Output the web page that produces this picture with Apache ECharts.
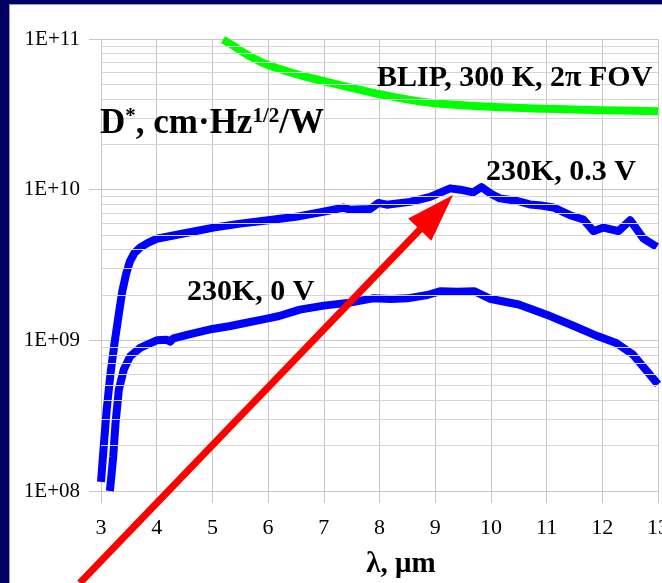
<!DOCTYPE html>
<html>
<head>
<meta charset="utf-8">
<script src="https://cdn.jsdelivr.net/npm/echarts@6/dist/echarts.min.js"></script>
<style>
  html, body { margin: 0; padding: 0; background: #000060; }
  #chart { width: 662px; height: 583px; }
</style>
</head>
<body>
<div id="chart"></div>
<script>
// wavelength, um / detectivity D*, cm*Hz^1/2/W
var blipX = [5.19, 5.4, 5.59, 5.98, 6.54, 7.11, 8.03, 8.92, 10.0, 11.02, 11.96, 13.0];
var blipY = [9.9e10, 8.9e10, 8.0e10, 6.77e10, 5.8e10, 5.13e10, 4.28e10, 3.77e10, 3.55e10, 3.44e10, 3.37e10, 3.31e10];

var bias03X = [3.0, 3.05, 3.1, 3.17, 3.25, 3.32, 3.38, 3.45, 3.52, 3.6, 3.7, 3.85, 4.0, 4.48, 5.02, 5.5, 6.0, 6.57, 6.99,
  7.2, 7.35, 7.47, 7.83, 7.98, 8.13, 8.55, 8.91, 9.1, 9.27, 9.45, 9.68, 9.83, 10.0, 10.16, 10.46, 10.7, 10.9,
  11.12, 11.42, 11.66, 11.84, 12.02, 12.29, 12.5, 12.74, 12.98];
var bias03Y = [1.15e8, 2.0e8, 3.4e8, 6.0e8, 1.0e9, 1.5e9, 2.1e9, 2.75e9, 3.35e9, 3.8e9, 4.12e9, 4.45e9, 4.72e9, 5.12e9, 5.6e9, 5.95e9, 6.27e9, 6.67e9, 7.13e9,
  7.4e9, 7.6e9, 7.35e9, 7.45e9, 8.17e9, 7.95e9, 8.3e9, 8.96e9, 9.6e9, 1.02e10, 1.0e10, 9.6e9, 1.04e10, 9.4e9, 8.75e9, 8.44e9, 7.98e9, 7.85e9,
  7.62e9, 6.77e9, 6.34e9, 5.3e9, 5.6e9, 5.3e9, 6.27e9, 4.74e9, 4.17e9];

var bias0X = [3.16, 3.22, 3.26, 3.32, 3.41, 3.52, 3.7, 4.0, 4.18, 4.24, 4.3, 4.6, 5.0, 5.3, 6.0, 6.2, 6.57, 7.0, 7.47, 7.88,
  8.2, 8.5, 8.86, 9.1, 9.4, 9.7, 10.0, 10.5, 11.0, 11.5, 11.85, 12.25, 12.55, 13.0];
var bias0Y = [1.0e8, 1.7e8, 2.8e8, 4.7e8, 6.4e8, 7.8e8, 8.9e8, 1.0e9, 1.01e9, 9.8e8, 1.03e9, 1.1e9, 1.19e9, 1.24e9, 1.4e9, 1.45e9, 1.6e9, 1.7e9, 1.78e9, 1.9e9,
  1.88e9, 1.9e9, 2.0e9, 2.12e9, 2.1e9, 2.12e9, 1.88e9, 1.73e9, 1.48e9, 1.24e9, 1.09e9, 9.6e8, 8.05e8, 5.1e8];

var yTickLabels = { 8: '1E+08', 9: '1E+09', 10: '1E+10', 11: '1E+11' };
var decades = [1e8, 1e9, 1e10];
var minorSteps = [2, 3, 4, 5, 6, 7, 8, 9];

// arrow: tip near the 0.3 V peak, tail runs off the bottom
var arrowTip = [9.32, 9.2e9];
var arrowTail = [2.62, 2.45e7];

var SERIF = '"Liberation Serif", "Times New Roman", serif';

function pairs(xs, ys) {
  var out = [];
  for (var i = 0; i < xs.length; i++) out.push([xs[i], ys[i]]);
  return out;
}

var minorLines = [];
decades.forEach(function (d) {
  minorSteps.forEach(function (m) { minorLines.push({ yAxis: d * m }); });
});

var chart = echarts.init(document.getElementById('chart'), null, { renderer: 'canvas' });

var option = {
  backgroundColor: '#000060',
  animation: false,
  grid: { left: 101, right: 4, top: 39, bottom: 92, outerBoundsMode: 'none' },
  xAxis: {
    type: 'value', min: 3, max: 13, interval: 1,
    axisLine: { show: true, lineStyle: { color: '#c8c8c8', width: 1 } },
    axisTick: { show: true, length: 12, lineStyle: { color: '#c8c8c8' } },
    axisLabel: { fontFamily: SERIF, fontSize: 22, color: '#000', margin: 26, hideOverlap: false },
    splitLine: { show: true, lineStyle: { color: '#c8c8c8', width: 1 } }
  },
  yAxis: {
    type: 'log', logBase: 10, min: 1e8, max: 1e11,
    axisLine: { show: true, lineStyle: { color: '#c8c8c8', width: 1 } },
    axisTick: { show: true, length: 12, lineStyle: { color: '#c8c8c8' } },
    axisLabel: {
      fontFamily: SERIF, fontSize: 21, color: '#000', margin: 21,
      formatter: function (v) { return yTickLabels[Math.round(Math.log10(v))]; }
    },
    splitLine: { show: true, lineStyle: { color: '#c8c8c8', width: 1 } }
  },
  series: [
    {
      name: 'minor grid', type: 'line', data: [], z: 1, silent: true,
      markLine: {
        silent: true, symbol: 'none', label: { show: false },
        lineStyle: { color: '#d6d6d6', type: 'solid', width: 1 },
        data: minorLines
      }
    },
    {
      name: 'BLIP', type: 'line', data: pairs(blipX, blipY), showSymbol: false, smooth: 0.4,
      lineStyle: { color: '#00ff00', width: 8, cap: 'butt', join: 'round' }, z: 3
    },
    {
      name: '230K, 0.3 V', type: 'line', data: pairs(bias03X, bias03Y), showSymbol: false,
      lineStyle: { color: '#0000ff', width: 8, cap: 'butt', join: 'round' }, z: 3
    },
    {
      name: '230K, 0 V', type: 'line', data: pairs(bias0X, bias0Y), showSymbol: false,
      lineStyle: { color: '#0000ff', width: 8, cap: 'butt', join: 'round' }, z: 3
    }
  ]
};
chart.setOption(option);

// annotations
var tip = chart.convertToPixel({ gridIndex: 0 }, arrowTip);
var tail = chart.convertToPixel({ gridIndex: 0 }, arrowTail);
var dx = tip[0] - tail[0], dy = tip[1] - tail[1];
var len = Math.sqrt(dx * dx + dy * dy);
var ux = dx / len, uy = dy / len;
var headLen = 48, headHalf = 16;
var base = [tip[0] - ux * headLen, tip[1] - uy * headLen];

chart.setOption({
  graphic: [
    {
      type: 'rect', z: -100, silent: true,
      shape: { x: 9.5, y: 4.5, width: 660, height: 590 },
      style: { fill: '#ffffff', stroke: '#9a9ad0', lineWidth: 1 }
    },
    {
      type: 'line', z: 50, silent: true,
      shape: { x1: tail[0], y1: tail[1], x2: base[0] + ux * 2, y2: base[1] + uy * 2 },
      style: { stroke: '#ff0000', lineWidth: 7 }
    },
    {
      type: 'polygon', z: 50, silent: true,
      shape: {
        points: [
          tip,
          [base[0] - uy * headHalf, base[1] + ux * headHalf],
          [base[0] + uy * headHalf, base[1] - ux * headHalf]
        ]
      },
      style: { fill: '#ff0000' }
    },
    {
      type: 'text', z: 60, silent: true,
      style: {
        x: 377, y: 78, text: 'BLIP, 300 K, 2π FOV', align: 'left', verticalAlign: 'middle',
        font: 'bold 30px ' + SERIF, fill: '#000'
      }
    },
    {
      type: 'text', z: 60, silent: true,
      style: {
        x: 100, y: 124, text: '{m|D}{s|*}{m|, cm·Hz}{s|1/2}{m|/W}', align: 'left', verticalAlign: 'middle',
        rich: {
          m: { fontFamily: SERIF, fontWeight: 'bold', fontSize: 35, color: '#000', lineHeight: 36 },
          s: { fontFamily: SERIF, fontWeight: 'bold', fontSize: 21, color: '#000', verticalAlign: 'top', lineHeight: 36 }
        }
      }
    },
    {
      type: 'text', z: 60, silent: true,
      style: {
        x: 486, y: 172, text: '230K, 0.3 V', align: 'left', verticalAlign: 'middle',
        font: 'bold 30px ' + SERIF, fill: '#000'
      }
    },
    {
      type: 'text', z: 60, silent: true,
      style: {
        x: 187, y: 292, text: '230K, 0 V', align: 'left', verticalAlign: 'middle',
        font: 'bold 30px ' + SERIF, fill: '#000'
      }
    },
    {
      type: 'text', z: 60, silent: true,
      style: {
        x: 401, y: 565, text: 'λ, μm', align: 'center', verticalAlign: 'middle',
        font: 'bold 29px ' + SERIF, fill: '#000'
      }
    }
  ]
});
</script>
</body>
</html>
